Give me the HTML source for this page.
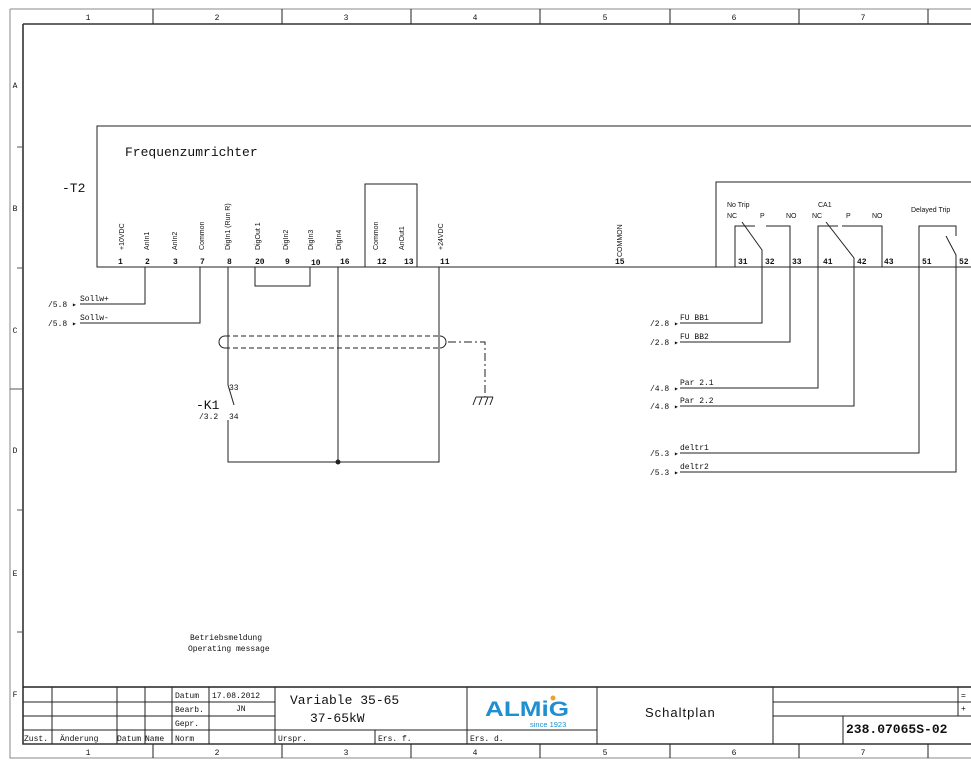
<!DOCTYPE html>
<html><head><meta charset="utf-8"><style>
html,body{margin:0;padding:0;background:#fff;}
svg{display:block;}
text{font-family:"Liberation Mono",monospace;fill:#111;}
.s{font-family:"Liberation Sans",sans-serif;}
</style></head><body>
<svg width="971" height="768" viewBox="0 0 971 768" xmlns="http://www.w3.org/2000/svg">
<g fill="none" stroke="#222" stroke-width="1">
<path d="M10 9 H971 M10 9 V758 H971" stroke="#888"/>
<path d="M23 24 H971 M23 24 V744 H971" stroke="#333" stroke-width="1.6"/>
<path d="M153 9V24 M282 9V24 M411 9V24 M540 9V24 M670 9V24 M799 9V24 M928 9V24"/>
<path d="M153 744V758 M282 744V758 M411 744V758 M540 744V758 M670 744V758 M799 744V758 M928 744V758"/>
<path d="M17 147H23 M17 268H23 M10 389H23 M17 510H23 M17 632H23" stroke="#555"/>
<path d="M971 126 H97 V267 H971"/>
<path d="M365 267 V184 H417 V267"/>
<path d="M716 267 V182 H971"/>
<path d="M80 304 H145 V267 M80 323 H200 V267"/>
<path d="M255 267 V286 H310 V267"/>
<path d="M228 267 V385 M228 420 V462 H439 V267 M338 267 V462"/>
<path d="M228 385 L234 405" />
<circle cx="338" cy="462" r="2" fill="#222"/>
<path d="M225 336 H440 M225 348 H440" stroke-dasharray="5,3"/>
<path d="M225 336 A6 6 0 0 0 225 348 M440 336 A6 6 0 0 1 440 348"/>
<path d="M448 342 H485 V397" stroke-dasharray="8,3,2,3"/>
<path d="M476 397 H493 M476 397 L473 405 M482 397 L479 405 M488 397 L485 405 M493 397 L490 405"/>
<path d="M735 267 V226 H755 M742 222 L762 250 V323 H680 M766 226 H790 V342 H680"/>
<path d="M818 267 V226 H838 M826 222 L854 258 V406 H680 M842 226 H882 V267"/>
<path d="M818 267 V388 H680"/>
<path d="M919 267 V226 H956 V236 M946 236 L956 255 V472 H680 M919 267 V453 H680"/>
<path d="M23 687 H971" stroke-width="1.6"/>
<path d="M23 702 H275 M23 716 H275 M23 730 H597 M773 716 H958 M773 702 H958 M958 702 H971 M958 716 H971"/>
<path d="M52 687V744 M117 687V744 M145 687V744 M172 687V744 M209 687V744 M275 687V744 M375 730V744 M467 687V744 M597 687V744 M773 687V744 M843 716V744 M958 687V716"/>
</g>
<g font-size="8" text-anchor="middle">
<text x="88" y="20">1</text><text x="217" y="20">2</text><text x="346" y="20">3</text><text x="475" y="20">4</text><text x="605" y="20">5</text><text x="734" y="20">6</text><text x="863" y="20">7</text>
<text x="88" y="755">1</text><text x="217" y="755">2</text><text x="346" y="755">3</text><text x="475" y="755">4</text><text x="605" y="755">5</text><text x="734" y="755">6</text><text x="863" y="755">7</text>
<text x="15" y="88">A</text><text x="15" y="211">B</text><text x="15" y="333">C</text><text x="15" y="453">D</text><text x="15" y="576">E</text><text x="15" y="697">F</text>
</g>
<text x="125" y="156" font-size="13">Frequenzumrichter</text>
<text x="62" y="192" font-size="13">-T2</text>
<g font-size="7" class="s">
<text class="s" transform="translate(124,250) rotate(-90)">+10VDC</text>
<text class="s" transform="translate(149,250) rotate(-90)">AnIn1</text>
<text class="s" transform="translate(177,250) rotate(-90)">AnIn2</text>
<text class="s" transform="translate(204,250) rotate(-90)">Common</text>
<text class="s" transform="translate(230,250) rotate(-90)">DigIn1 (Run R)</text>
<text class="s" transform="translate(260,250) rotate(-90)">DigOut 1</text>
<text class="s" transform="translate(288,250) rotate(-90)">DigIn2</text>
<text class="s" transform="translate(313,250) rotate(-90)">DigIn3</text>
<text class="s" transform="translate(341,250) rotate(-90)">DigIn4</text>
<text class="s" transform="translate(378,250) rotate(-90)">Common</text>
<text class="s" transform="translate(404,250) rotate(-90)">AnOut1</text>
<text class="s" transform="translate(443,250) rotate(-90)">+24VDC</text>
<text class="s" transform="translate(622,257) rotate(-90)">COMMON</text>
<text class="s" x="727" y="207">No Trip</text>
<text class="s" x="727" y="218">NC</text><text class="s" x="760" y="218">P</text><text class="s" x="786" y="218">NO</text>
<text class="s" x="818" y="207">CA1</text>
<text class="s" x="812" y="218">NC</text><text class="s" x="846" y="218">P</text><text class="s" x="872" y="218">NO</text>
<text class="s" x="911" y="212">Delayed Trip</text>
</g>
<g font-size="8" font-weight="bold">
<text x="118" y="264">1</text><text x="145" y="264">2</text><text x="173" y="264">3</text><text x="200" y="264">7</text><text x="227" y="264">8</text><text x="255" y="264">20</text><text x="285" y="264">9</text><text x="311" y="265">10</text><text x="340" y="264">16</text><text x="377" y="264">12</text><text x="404" y="264">13</text><text x="440" y="264">11</text><text x="615" y="264">15</text>
<text x="738" y="264">31</text><text x="765" y="264">32</text><text x="792" y="264">33</text><text x="823" y="264">41</text><text x="857" y="264">42</text><text x="884" y="264">43</text><text x="922" y="264">51</text><text x="959" y="264">52</text>
</g>
<g font-size="8">
<text x="48" y="307">/5.8 ▸</text><text x="80" y="301">Sollw+</text>
<text x="48" y="326">/5.8 ▸</text><text x="80" y="320">Sollw-</text>
<text x="650" y="326">/2.8 ▸</text><text x="680" y="320">FU BB1</text>
<text x="650" y="345">/2.8 ▸</text><text x="680" y="339">FU BB2</text>
<text x="650" y="391">/4.8 ▸</text><text x="680" y="385">Par 2.1</text>
<text x="650" y="409">/4.8 ▸</text><text x="680" y="403">Par 2.2</text>
<text x="650" y="456">/5.3 ▸</text><text x="680" y="450">deltr1</text>
<text x="650" y="475">/5.3 ▸</text><text x="680" y="469">deltr2</text>
<text x="229" y="390">33</text><text x="229" y="419">34</text><text x="199" y="419">/3.2</text>
<text x="190" y="640">Betriebsmeldung</text><text x="188" y="651">Operating message</text>
</g>
<text x="196" y="409" font-size="13">-K1</text>
<g font-size="8">
<text x="175" y="698">Datum</text><text x="212" y="698">17.08.2012</text>
<text x="175" y="712">Bearb.</text><text x="236" y="711">JN</text>
<text x="175" y="726">Gepr.</text>
<text x="24" y="741">Zust.</text><text x="60" y="741">Änderung</text><text x="117" y="741">Datum</text><text x="145" y="741">Name</text><text x="175" y="741">Norm</text>
<text x="278" y="741">Urspr.</text><text x="378" y="741">Ers. f.</text><text x="470" y="741">Ers. d.</text>
<text x="961" y="698">=</text><text x="961" y="711">+</text>
</g>
<text x="290" y="704" font-size="13">Variable 35-65</text>
<text x="310" y="722" font-size="13">37-65kW</text>
<text x="645" y="717" font-size="13" class="s" letter-spacing="1">Schaltplan</text>
<text x="846" y="733" font-size="13" font-weight="bold">238.07065S-02</text>
<text x="485" y="716" font-size="21" font-weight="bold" class="s" style="fill:#1f8fd0" textLength="84" lengthAdjust="spacingAndGlyphs">ALMiG</text>
<circle cx="553" cy="698" r="2.5" fill="#f0a030"/>
<text x="530" y="727" font-size="7.5" class="s" style="fill:#1f8fd0">since 1923</text>
</svg>
</body></html>
